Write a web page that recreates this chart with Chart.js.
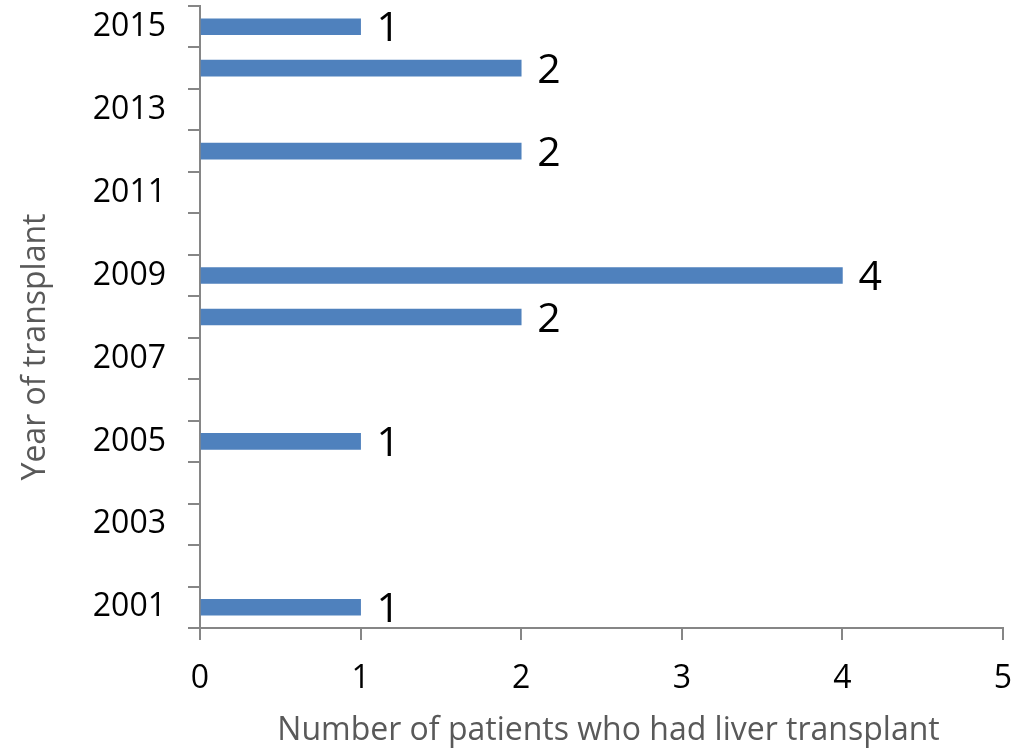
<!DOCTYPE html>
<html>
<head>
<meta charset="utf-8">
<script src="https://cdn.jsdelivr.net/npm/chart.js@4.4.1/dist/chart.umd.min.js"></script>
<style>
html,body{margin:0;padding:0;background:#fff;}
#wrap{width:1026px;height:751px;}
</style>
</head>
<body>
<div id="wrap"><canvas id="c" width="1026" height="751"></canvas></div>
<script>
const years = ['2001','2002','2003','2004','2005','2006','2007','2008','2009','2010','2011','2012','2013','2014','2015'];
const patients = [1, null, null, null, 1, null, null, 2, 4, null, null, 2, null, 2, 1];
const xTicks = [0, 1, 2, 3, 4, 5];
const xTitle = 'Number of patients who had liver transplant';
const yTitle = 'Year of transplant';

const FONT = '"Open Sans", "DejaVu Sans", sans-serif';
const AXIS = '#868686';

const labelPlugin = {
  id: 'valueLabels',
  afterDatasetsDraw(chart) {
    const ctx = chart.ctx;
    const meta = chart.getDatasetMeta(0);
    ctx.save();
    ctx.fillStyle = '#000';
    ctx.font = '41px ' + FONT;
    ctx.textAlign = 'left';
    ctx.textBaseline = 'middle';
    meta.data.forEach((bar, i) => {
      const v = patients[i];
      if (v === null || v === undefined) return;
      ctx.fillText(String(v), bar.x + 16, bar.y + 3);
    });
    ctx.restore();
  }
};

const titlePlugin = {
  id: 'axisTitles',
  afterDraw(chart) {
    const ctx = chart.ctx;
    const area = chart.chartArea;
    ctx.save();
    ctx.fillStyle = '#595959';
    ctx.font = '32px ' + FONT;
    ctx.textAlign = 'center';
    ctx.textBaseline = 'middle';
    ctx.fillText(xTitle, (area.left + area.right) / 2 + 7, 731);
    ctx.translate(36, 347);
    ctx.rotate(-Math.PI / 2);
    ctx.fillText(yTitle, 0, 0);
    ctx.restore();
  }
};

new Chart(document.getElementById('c'), {
  type: 'bar',
  data: {
    labels: years,
    datasets: [{
      data: patients,
      backgroundColor: '#4F81BD',
      borderWidth: 0,
      barThickness: 16
    }]
  },
  options: {
    indexAxis: 'y',
    responsive: false,
    animation: false,
    devicePixelRatio: 1,
    layout: { padding: { top: 6, right: 23, left: 0, bottom: 0 } },
    plugins: { legend: { display: false }, tooltip: { enabled: false } },
    scales: {
      y: {
        type: 'category',
        reverse: true,
        afterFit(scale) { scale.width = 200; scale.paddingTop = 0; scale.paddingBottom = 0; },
        border: { color: AXIS, width: 2 },
        grid: { display: true, drawOnChartArea: false, offset: true, color: AXIS, lineWidth: 2, tickLength: 12 },
        ticks: {
          autoSkip: false,
          color: '#000',
          font: { family: FONT, size: 32 },
          padding: 22,
          callback(val, idx) { return idx % 2 === 0 ? years[idx] : ''; }
        }
      },
      x: {
        min: xTicks[0],
        max: xTicks[xTicks.length - 1],
        afterFit(scale) { scale.height = 123; scale.paddingLeft = 0; scale.paddingRight = 0; },
        afterBuildTicks(scale) { scale.ticks = xTicks.map(v => ({ value: v })); },
        border: { color: AXIS, width: 2 },
        grid: { display: true, drawOnChartArea: false, color: AXIS, lineWidth: 2, tickLength: 12 },
        ticks: {
          color: '#000',
          font: { family: FONT, size: 32 },
          padding: 20
        }
      }
    }
  },
  plugins: [labelPlugin, titlePlugin]
});
</script>
</body>
</html>
